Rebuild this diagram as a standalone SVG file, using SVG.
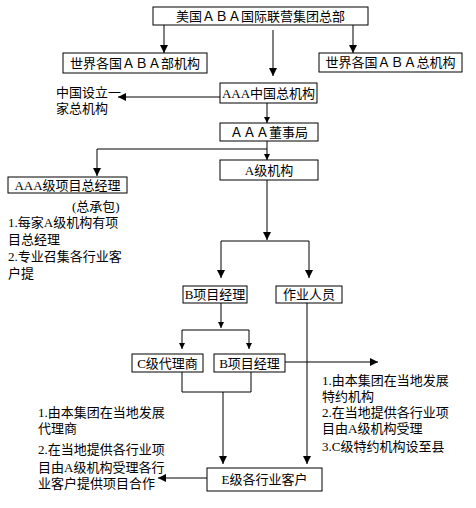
<svg xmlns="http://www.w3.org/2000/svg" width="476" height="508" viewBox="0 0 476 508">
<style>
.b{fill:#fff;stroke:#000;stroke-width:1}
.t{font-family:"Liberation Serif","Noto Sans CJK SC",serif;font-size:13px;fill:#000}
.c{text-anchor:middle}
.l{fill:none;stroke:#000;stroke-width:1}
.a{marker-end:url(#ah)}
.s{marker-end:url(#sh)}
</style>
<defs>
<marker id="ah" markerUnits="userSpaceOnUse" markerWidth="10" markerHeight="10" refX="8" refY="4" orient="auto"><path d="M0,0 L8,4 L0,8 z" fill="#000"/></marker>
<marker id="sh" markerUnits="userSpaceOnUse" markerWidth="8" markerHeight="8" refX="6" refY="3" orient="auto"><path d="M0,0 L6,3 L0,6 z" fill="#000"/></marker>
</defs>
<rect width="476" height="508" fill="#fff"/>
<g id="connectors">
<line class="l a" x1="164" y1="25" x2="164" y2="53"/>
<line class="l a" x1="273" y1="30" x2="273" y2="76"/>
<line class="l a" x1="353" y1="25" x2="353" y2="53"/>
<line class="l a" x1="220" y1="97" x2="118" y2="97"/>
<line class="l s" x1="267" y1="103" x2="267" y2="123"/>
<path class="l a" d="M267,141 V149 H97 V176"/>
<line class="l s" x1="267" y1="149" x2="267" y2="160"/>
<line class="l a" x1="267" y1="180" x2="267" y2="240"/>
<path class="l" d="M221,241 H309"/>
<line class="l a" x1="221" y1="241" x2="221" y2="278"/>
<line class="l a" x1="309" y1="241" x2="309" y2="278"/>
<line class="l s" x1="221" y1="303" x2="221" y2="328"/>
<path class="l" d="M182,330 H249"/>
<line class="l s" x1="182" y1="330" x2="182" y2="349"/>
<line class="l s" x1="249" y1="330" x2="249" y2="349"/>
<line class="l a" x1="285" y1="362" x2="378" y2="362"/>
<line class="l a" x1="307" y1="303" x2="307" y2="464"/>
<path class="l" d="M182,372 V392 H251 V372"/>
<line class="l a" x1="223" y1="392" x2="223" y2="464"/>
<line class="l a" x1="207" y1="478" x2="158" y2="478"/>
</g>
<g id="n1"><rect class="b" x="153" y="7" width="215" height="18"/><text class="t c" x="260.5" y="20.5">美国ＡＢＡ国际联营集团总部</text></g>
<g id="n2"><rect class="b" x="63" y="53" width="144" height="20"/><text class="t c" x="135" y="67.5">世界各国ＡＢＡ部机构</text></g>
<g id="n3"><rect class="b" x="319" y="53" width="143" height="19"/><text class="t c" x="390.5" y="67">世界各国ＡＢＡ总机构</text></g>
<g id="n4"><rect class="b" x="220" y="83" width="97" height="20"/><text class="t c" x="268.5" y="97.5">AAA中国总机构</text></g>
<g id="n5"><rect class="b" x="220" y="123" width="98" height="18"/><text class="t c" x="269" y="136.5">ＡＡＡ董事局</text></g>
<g id="n6"><rect class="b" x="220" y="160" width="98" height="20"/><text class="t c" x="269" y="174.5">A级机构</text></g>
<g id="n7"><rect class="b" x="8" y="177" width="119" height="16"/><text class="t c" x="67.5" y="189.5">AAA级项目总经理</text></g>
<g id="n8"><rect class="b" x="183" y="286" width="64" height="17"/><text class="t c" x="215" y="299">B项目经理</text></g>
<g id="n9"><rect class="b" x="276" y="286" width="66" height="17"/><text class="t c" x="309" y="299">作业人员</text></g>
<g id="n10"><rect class="b" x="132" y="354" width="71" height="18"/><text class="t c" x="167.5" y="367.5">C级代理商</text></g>
<g id="n11"><rect class="b" x="214" y="354" width="71" height="18"/><text class="t c" x="249.5" y="367.5">B项目经理</text></g>
<g id="n12"><rect class="b" x="207" y="468" width="115" height="23"/><text class="t c" x="264.5" y="484">E级各行业客户</text></g>
<g id="labels">
<text class="t" x="56" y="97">中国设立一</text>
<text class="t" x="56" y="113">家总机构</text>
<text class="t" x="72" y="211">(总承包)</text>
<text class="t" x="8" y="227">1.每家A级机构有项</text>
<text class="t" x="8" y="244">目总经理</text>
<text class="t" x="8" y="261">2.专业召集各行业客</text>
<text class="t" x="8" y="278">户提</text>
<text class="t" x="322" y="385">1.由本集团在当地发展</text>
<text class="t" x="322" y="401">特约机构</text>
<text class="t" x="322" y="417">2.在当地提供各行业项</text>
<text class="t" x="322" y="433">目由A级机构受理</text>
<text class="t" x="322" y="451">3.C级特约机构设至县</text>
<text class="t" x="38" y="417">1.由本集团在当地发展</text>
<text class="t" x="38" y="433">代理商</text>
<text class="t" x="38" y="454">2.在当地提供各行业项</text>
<text class="t" x="38" y="472">目由A级机构受理各行</text>
<text class="t" x="38" y="488">业客户提供项目合作</text>
</g>
</svg>
